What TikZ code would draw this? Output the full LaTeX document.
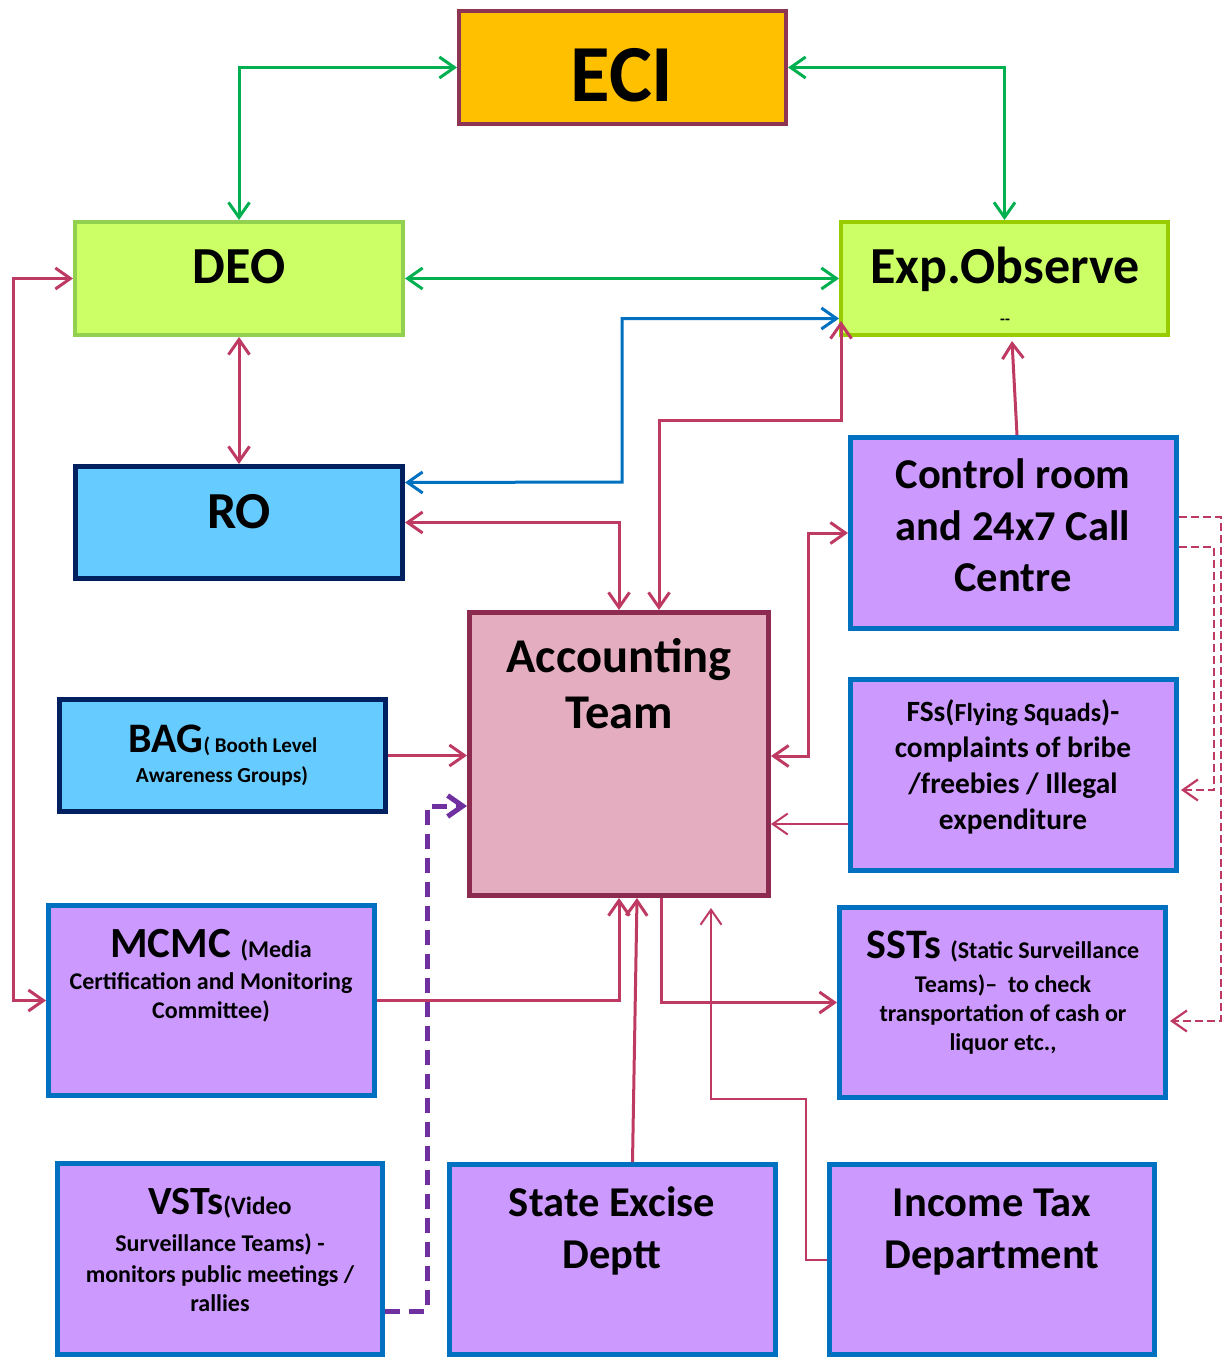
\documentclass[tikz,border=0pt]{standalone}
\usepackage{fontspec}
\setmainfont{Carlito}
\usetikzlibrary{arrows.meta,calc}
\definecolor{eciF}{HTML}{FFC000}
\definecolor{eciD}{HTML}{8E3553}
\definecolor{limeF}{HTML}{CCFF66}
\definecolor{deoD}{HTML}{92D050}
\definecolor{expD}{HTML}{99CC00}
\definecolor{skyF}{HTML}{66CCFF}
\definecolor{navyD}{HTML}{002060}
\definecolor{accF}{HTML}{E4AEC0}
\definecolor{accD}{HTML}{8C2B4F}
\definecolor{lilF}{HTML}{CC99FF}
\definecolor{bluD}{HTML}{0070C0}
\definecolor{grn}{HTML}{00B050}
\definecolor{mag}{HTML}{BE3A63}
\definecolor{pur}{HTML}{7030A0}
\newcommand{\fz}[1]{\fontsize{#1}{#1}\selectfont\bfseries}
\begin{document}
\begin{tikzpicture}[x=1pt,y=-1pt,
  >={Straight Barb[length=15pt,width=21pt]},
  box/.style={draw, inner sep=0pt},
  pbox/.style={box, fill=lilF, draw=bluD, line width=5pt},
  sbox/.style={box, fill=skyF, draw=navyD, line width=5pt},
  tx/.style={anchor=base, inner sep=0pt, text=black},
  gl/.style={draw=grn, line width=3pt},
  ml/.style={draw=mag, line width=3pt},
  mt/.style={draw=mag, line width=2pt},
  bl/.style={draw=bluD, line width=3pt},
  md/.style={draw=mag, line width=2.2pt, dash pattern=on 8pt off 4pt},
  pd/.style={draw=pur, line width=5pt, dash pattern=on 15pt off 9pt}]
\useasboundingbox (0,0) rectangle (1224,1359);

% boxes
\node[box, fill=eciF, draw=eciD, line width=4pt, minimum width=327pt, minimum height=113pt] (eci) at (622.5,67.5) {};
\node[box, fill=limeF, draw=deoD, line width=4pt, minimum width=328pt, minimum height=113pt] (deo) at (239,278.5) {};
\node[box, fill=limeF, draw=expD, line width=4pt, minimum width=327pt, minimum height=113pt] (exp) at (1004.5,278.5) {};
\node[sbox, minimum width=327pt, minimum height=112pt] (ro) at (239,522.5) {};
\node[sbox, minimum width=326pt, minimum height=112pt] (bag) at (222.5,755.5) {};
\node[box, fill=accF, draw=accD, line width=5pt, minimum width=299pt, minimum height=283pt] (acc) at (619,754) {};
\node[pbox, minimum width=326pt, minimum height=191pt] (ctrl) at (1013.5,533) {};
\node[pbox, minimum width=326pt, minimum height=191pt] (fss) at (1013.5,775) {};
\node[pbox, minimum width=326pt, minimum height=190pt] (mcmc) at (211.5,1000.5) {};
\node[pbox, minimum width=326pt, minimum height=190pt] (sst) at (1002.5,1002.5) {};
\node[pbox, minimum width=325pt, minimum height=191pt] (vst) at (220,1259) {};
\node[pbox, minimum width=326pt, minimum height=190pt] (exc) at (612.5,1259.5) {};
\node[pbox, minimum width=325pt, minimum height=190pt] (inc) at (992,1259.5) {};

% texts
\node[tx] (eciT) at (622,102) {\fz{81}ECI};
\node[tx] (deoT) at (239,283) {\fz{52}DEO};
\node[tx] (expT) at (1005,283) {\fz{52}Exp.Observe};
\node[tx] (expT2) at (1005,324) {\fz{16}-{}-};
\node[tx] (roT) at (239,528) {\fz{52}RO};
\node[tx] (accT1) at (619,672) {\fz{48.5}Accounting};
\node[tx] (accT2) at (619,728) {\fz{48.5}Team};
\node[tx] (ctrlT1) at (1013,488) {\fz{42.5}Control room};
\node[tx] (ctrlT2) at (1013,540) {\fz{42.5}and 24x7 Call};
\node[tx] (ctrlT3) at (1013,591) {\fz{42.5}Centre};
\node[tx] (bagT1) at (223,752) {\fz{42}BAG\fz{21}( Booth Level};
\node[tx] (bagT2) at (222,782) {\fz{21.4}Awareness Groups)};
\node[tx] (fssT1) at (1013,721) {\fz{29.4}FSs(\fz{26}Flying Squads\fz{29.4})-};
\node[tx] (fssT2) at (1013,757) {\fz{29.4}complaints of bribe};
\node[tx] (fssT3) at (1013,793) {\fz{29.4}/freebies / Illegal};
\node[tx] (fssT4) at (1013,829) {\fz{29.4}expenditure};
\node[tx] (mcmcT1) at (211,957) {\fz{43}MCMC \fz{24}(Media};
\node[tx] (mcmcT2) at (211,989) {\fz{24}Certification and Monitoring};
\node[tx] (mcmcT3) at (211,1018) {\fz{24}Committee)};
\node[tx] (sstT1) at (1003,958) {\fz{42}SSTs \fz{24}(Static Surveillance};
\node[tx] (sstT2) at (1003,992) {\fz{24}Teams)--\ \ to check};
\node[tx] (sstT3) at (1003,1021) {\fz{24}transportation of cash or};
\node[tx] (sstT4) at (1003,1050) {\fz{24}liquor etc.,};
\node[tx] (vstT1) at (220,1214) {\fz{40}VSTs\fz{25}(Video};
\node[tx] (vstT2) at (220,1251) {\fz{24}Surveillance Teams) -};
\node[tx] (vstT3) at (220,1282) {\fz{24}monitors public meetings /};
\node[tx] (vstT4) at (220,1311) {\fz{24}rallies};
\node[tx] (excT1) at (612,1216) {\fz{42.5}State Excise};
\node[tx] (excT2) at (612,1268) {\fz{42.5}Deptt};
\node[tx] (incT1) at (992,1216) {\fz{42.5}Income Tax};
\node[tx] (incT2) at (992,1268) {\fz{42.5}Department};

% helper coordinates
\coordinate (b2) at (622,482);
\coordinate (k8) at (841,420);
\coordinate (k9) at (808,640);
\coordinate (i1) at (806,1099);
\coordinate (i2) at (711,908);
\coordinate (v2) at (427,806);
\coordinate (f1) at ($(fss.west)+(0,49)$);
\coordinate (v1) at ($(vst.east)+(0,52)$);

% green connectors
\draw[gl,<->] (eci.west) -| (deo.north);
\draw[gl,<->] (eci.east) -| (exp.north);
\draw[gl,<->] (deo.east) -- (exp.west);

% blue connector
\draw[bl,<->] ($(exp.west)+(0,40)$) -| (b2) -- ($(ro.east)+(0,-40)$);

% magenta connectors
\draw[ml,<->] (deo.south) -- (ro.north);
\draw[ml,<->] (deo.west) -- ++(-60,0) |- (mcmc.west);
\draw[ml,<->] (ro.east) -| (acc.north);
\draw[ml,<->] ($(acc.north)+(40,0)$) |- (k8) -- ($(exp.south west)+(2,-16)$);
\draw[ml,<->] (ctrl.west) -| (k9) |- ($(acc.east)+(0,2)$);
\draw[ml,->] ($(ctrl.north)+(3.5,0)$) -- ($(exp.south)+(7.5,4)$);
\draw[mt,->] (f1) -- (f1 -| acc.east);
\draw[ml,->] (bag.east) -- (bag.east -| acc.west);
\draw[ml,->] (mcmc.east) -| (acc.south);
\draw[ml,->] ($(exc.north)+(20,0)$) -- ($(acc.south)+(18,0)$);
\draw[mt,->] (inc.west) -| (i1) -| (i2);
\draw[ml,->] ($(acc.south)+(42,0)$) |- (sst.west);

% dashed connectors
\draw[pd,->] (v1) -| (v2) -- (v2 -| acc.west);
\draw[md,->] ($(ctrl.east)+(0,-16)$) -- ++(42,0) |- ($(sst.east)+(2,18.5)$);
\draw[md,->] ($(ctrl.east)+(0,14)$) -- ++(35,0) |- ($(fss.east)+(2,15)$);
\end{tikzpicture}
\end{document}
